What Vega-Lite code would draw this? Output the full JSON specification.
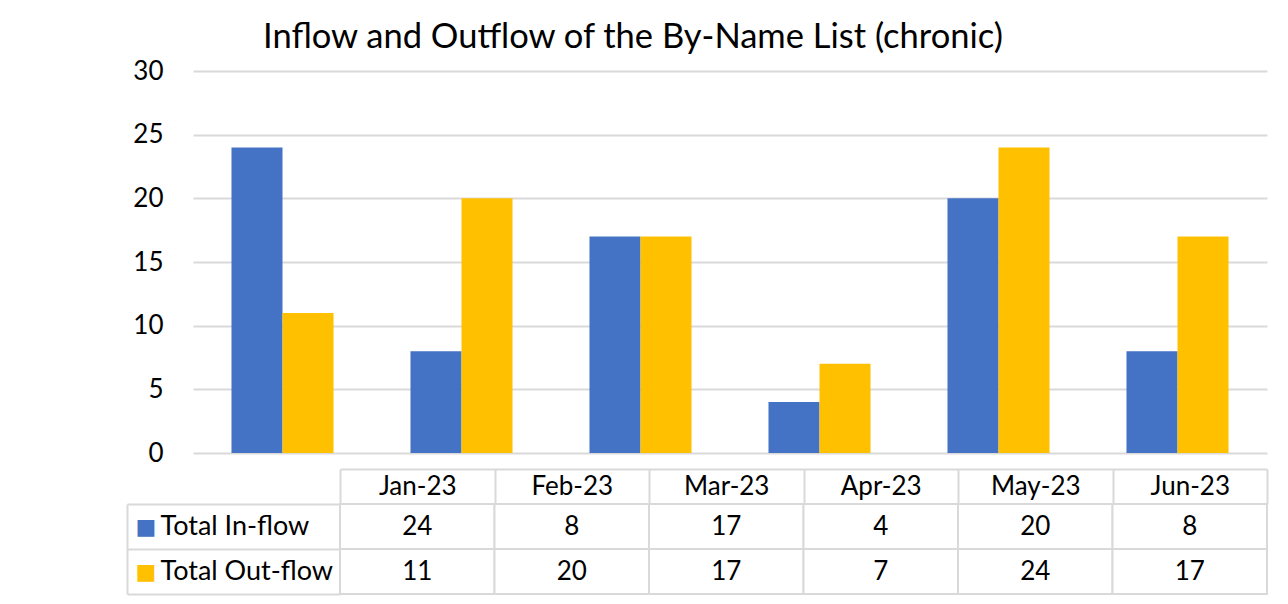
{
  "$schema": "https://vega.github.io/schema/vega-lite/v6.json",
  "padding": {"left": 126, "top": 19, "right": 15, "bottom": 5},
  "background": "white",
  "title": {"text": "Inflow and Outflow of the By-Name List (chronic)", "anchor": "start", "dx": 137, "fontSize": 34.5, "font": "Lato", "fontWeight": "normal", "color": "#000000", "offset": 3},
  "data": {"values": [
    {"month": "Jan-23", "series": "Total In-flow", "value": 24},
    {"month": "Jan-23", "series": "Total Out-flow", "value": 11},
    {"month": "Feb-23", "series": "Total In-flow", "value": 8},
    {"month": "Feb-23", "series": "Total Out-flow", "value": 20},
    {"month": "Mar-23", "series": "Total In-flow", "value": 17},
    {"month": "Mar-23", "series": "Total Out-flow", "value": 17},
    {"month": "Apr-23", "series": "Total In-flow", "value": 4},
    {"month": "Apr-23", "series": "Total Out-flow", "value": 7},
    {"month": "May-23", "series": "Total In-flow", "value": 20},
    {"month": "May-23", "series": "Total Out-flow", "value": 24},
    {"month": "Jun-23", "series": "Total In-flow", "value": 8},
    {"month": "Jun-23", "series": "Total Out-flow", "value": 17}
  ]},
  "config": {"font": "Lato", "view": {"stroke": null}, "concat": {"spacing": 2}},
  "resolve": {"scale": {"x": "independent", "y": "independent"}},
  "vconcat": [
    {
      "width": 1140,
      "height": 382,
      "mark": {"type": "bar"},
      "encoding": {
        "x": {"field": "month", "type": "nominal", "sort": ["Jan-23", "Feb-23", "Mar-23", "Apr-23", "May-23", "Jun-23"],
              "scale": {"range": [66, 1140], "paddingInner": 0.43, "paddingOuter": 0.215}, "axis": null},
        "xOffset": {"field": "series", "type": "nominal", "sort": ["Total In-flow", "Total Out-flow"]},
        "y": {"field": "value", "type": "quantitative", "scale": {"domain": [0, 30], "nice": false},
              "axis": {"values": [0, 5, 10, 15, 20, 25, 30], "offset": -66, "domain": false, "ticks": false, "labelPadding": 30,
                       "labelFontSize": 26, "labelColor": "#000000", "labelFont": "Lato", "grid": true, "gridColor": "#d9d9d9", "gridWidth": 2, "title": null}},
        "color": {"field": "series", "type": "nominal", "sort": ["Total In-flow", "Total Out-flow"], "scale": {"range": ["#4472C4", "#FFC000"]}, "legend": null}
      }
    },
    {
      "width": 1140,
      "height": 90,
      "encoding": {
        "x": {"field": "month", "type": "nominal", "sort": ["Jan-23", "Feb-23", "Mar-23", "Apr-23", "May-23", "Jun-23"],
              "scale": {"range": [213, 1140], "paddingInner": 0, "paddingOuter": 0},
              "axis": {"orient": "top", "title": null, "offset": 35, "tickBand": "extent", "tickSize": -35, "tickColor": "#d9d9d9", "tickWidth": 2,
                       "domainColor": "#d9d9d9", "domainWidth": 2, "labelAngle": 0, "labelFontSize": 26, "labelColor": "#000000",
                       "labelBaseline": "middle", "labelPadding": 17.5}},
        "y": {"field": "series", "type": "nominal", "sort": ["Total In-flow", "Total Out-flow"], "scale": {"paddingInner": 0, "paddingOuter": 0}}
      },
      "layer": [
        {
          "mark": {"type": "rect", "fill": "white", "stroke": "#d9d9d9", "strokeWidth": 2},
          "encoding": {
            "y": {"field": "series", "type": "nominal", "sort": ["Total In-flow", "Total Out-flow"],
                  "axis": {"orient": "left", "title": null, "domainColor": "#d9d9d9", "domainWidth": 2, "tickBand": "extent", "tickSize": -213,
                           "tickColor": "#d9d9d9", "tickWidth": 2, "labelAlign": "left", "labelPadding": 180, "labelFontSize": 27, "labelColor": "#000000", "labelBaseline": "middle"}}
          }
        },
        {
          "mark": {"type": "text", "fontSize": 26, "color": "#000000", "baseline": "middle"},
          "encoding": {
            "text": {"field": "value", "type": "quantitative"},
            "y": {"field": "series", "type": "nominal", "sort": ["Total In-flow", "Total Out-flow"],
                  "axis": {"orient": "left", "title": null, "domain": false, "ticks": false, "labelExpr": "'■'", "labelFont": "DejaVu Sans", "labelFontSize": 22,
                           "labelAlign": "left", "labelPadding": -8, "labelBaseline": "middle",
                           "labelColor": {"condition": {"test": "datum.value === 'Total In-flow'", "value": "#4472C4"}, "value": "#FFC000"}}}
          }
        }
      ],
      "resolve": {"axis": {"y": "independent"}}
    }
  ]
}
